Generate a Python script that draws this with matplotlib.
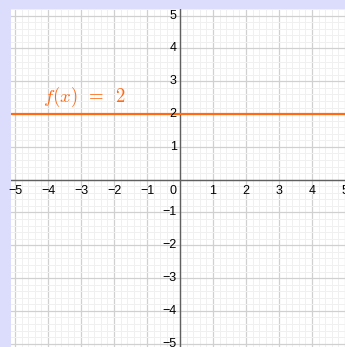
import matplotlib
matplotlib.use("Agg")
import matplotlib.pyplot as plt
import numpy as np
from matplotlib.ticker import MultipleLocator

# data
x_ticks = [-5, -4, -3, -2, -1, 1, 2, 3, 4, 5]
y_ticks = [-5, -4, -3, -2, -1, 1, 2, 3, 4, 5]
const_value = 2
func_label = r"$f(x)\ \,=\ \,2$"

plt.rcParams["mathtext.fontset"] = "cm"

W, H = 345, 347
fig = plt.figure(figsize=(W / 100, H / 100), dpi=100)
fig.patch.set_facecolor("#dcdcfc")

left_px, top_px = 11, 9
ax = fig.add_axes([left_px / W, 0, (W - left_px) / W, (H - top_px) / H])
ax.set_facecolor("white")

ox, oy = 180, 179.7
ux, uy = 33.0, 32.8
xmin = (left_px - ox) / ux
xmax = (W - ox) / ux
ymax = (oy - top_px) / uy
ymin = (oy - H) / uy
ax.set_xlim(xmin, xmax)
ax.set_ylim(ymin, ymax)

ax.xaxis.set_major_locator(MultipleLocator(1))
ax.yaxis.set_major_locator(MultipleLocator(1))
ax.xaxis.set_minor_locator(MultipleLocator(0.2))
ax.yaxis.set_minor_locator(MultipleLocator(0.2))
ax.grid(which="minor", color="#f0f0f0", linewidth=0.7)
ax.grid(which="major", color="#d0d0d0", linewidth=0.9)
ax.set_axisbelow(True)
ax.tick_params(which="both", length=0, labelbottom=False, labelleft=False)
for s in ax.spines.values():
    s.set_visible(False)

ax.axhline(0, color="#606060", linewidth=1.0, zorder=2)
ax.axvline(0, color="#606060", linewidth=1.0, zorder=2)

xs = np.array([xmin, xmax])
ax.plot(xs, [const_value, const_value], color="#ff6a13", linewidth=1.6, zorder=3)

fs = 9
fam = "Liberation Sans"
for t in x_ticks:
    lab = str(t).replace("-", "\u2212")
    ax.text(t, -0.15, lab, ha="center", va="top", fontsize=fs, color="black",
            family=fam)
ax.text(-0.12, -0.15, "0", ha="right", va="top", fontsize=fs, color="black",
        family=fam)
for t in y_ticks:
    lab = str(t).replace("-", "\u2212")
    ax.text(-0.1, t, lab, ha="right", va="center", fontsize=fs, color="black",
            family=fam)

ax.text(-4.15, 2.52, func_label, ha="left", va="center", fontsize=13.5,
        color="#ff6a13", zorder=4)

fig.savefig("out.png", dpi=100, facecolor=fig.get_facecolor())
